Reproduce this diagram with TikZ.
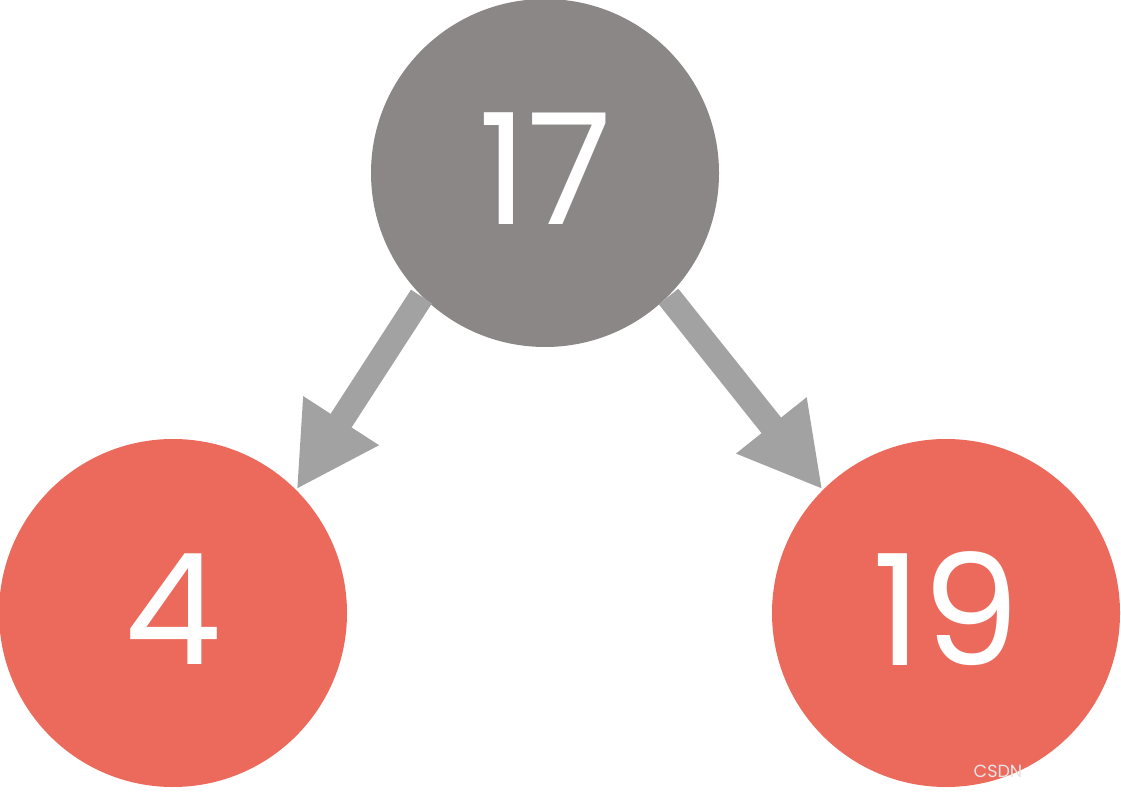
\documentclass[tikz,border=0pt]{standalone}
\usepackage{fontspec}
\setmainfont{Poppins}
\usepackage{xcolor}
\usetikzlibrary{positioning,arrows.meta}

\definecolor{rootgray}{HTML}{8B8787}
\definecolor{leafred}{HTML}{EC6A5C}
\definecolor{arrowgray}{HTML}{A3A2A2}

\begin{document}
\begin{tikzpicture}[
  ball/.style={circle, inner sep=0pt, minimum size=3.48cm, text=white, text depth=0.08cm, font=\fontsize{44}{44}\selectfont},
  rootball/.style={ball, fill=rootgray},
  leafball/.style={ball, fill=leafred},
  arrow/.style={-{Triangle[length=0.82cm, width=0.84cm]}, line width=0.25cm, draw=arrowgray},
  wmark/.style={font=\fontsize{5}{5}\selectfont, text=white!80!gray}
]
\useasboundingbox (0,0) rectangle (11.21,7.91);

% Tree nodes
\node[rootball] (root) at (5.45,6.18) {17};
\node[leafball] (left) at (1.73,1.78) {4};
\node[leafball] (right) at (9.46,1.78) {19};

% Arrows
\draw[arrow] (root.225) -- (left.45);
\draw[arrow] (root.-45) -- (right.135);

% Watermark
\node[wmark] (csdn) at (9.98,0.20) {CSDN};

\end{tikzpicture}
\end{document}
